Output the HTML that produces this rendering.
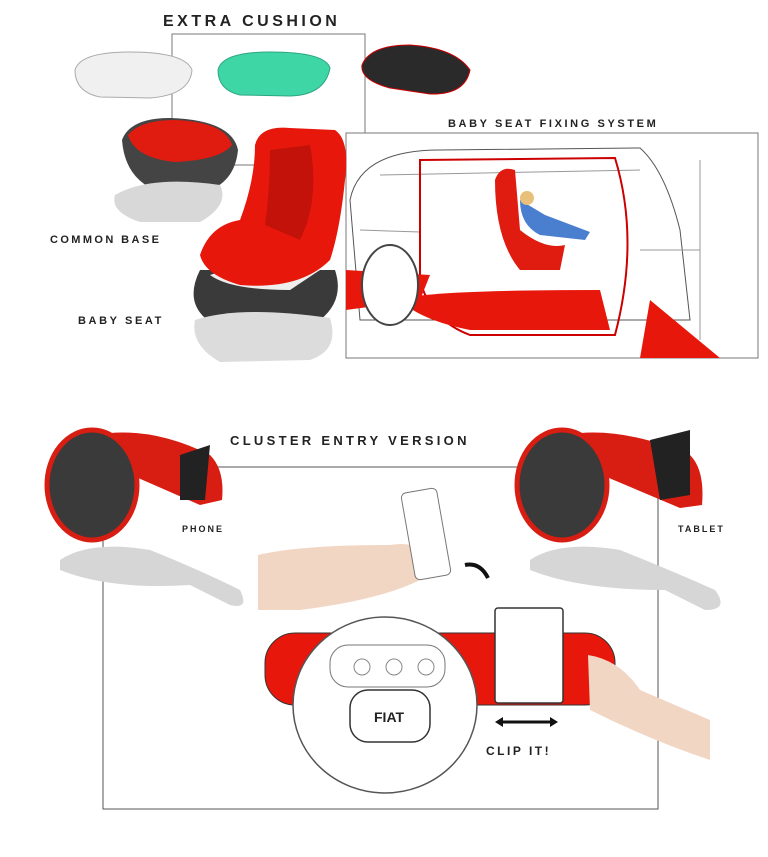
<!DOCTYPE html>
<html><head><meta charset="utf-8"><style>
html,body{margin:0;padding:0;background:#fff;width:768px;height:857px;overflow:hidden}
svg{display:block}
text{font-family:"Liberation Sans",sans-serif;font-weight:bold;fill:#222}
</style></head><body>
<svg width="768" height="857" viewBox="0 0 768 857" xmlns="http://www.w3.org/2000/svg">
<rect x="172" y="34" width="193" height="131" fill="none" stroke="#777" stroke-width="1"/>
<rect x="346" y="133" width="412" height="225" fill="#fff" stroke="#777" stroke-width="1"/>
<rect x="103" y="467" width="555" height="342" fill="none" stroke="#555" stroke-width="1"/>
<text x="163" y="26" font-size="16" letter-spacing="3.5">EXTRA CUSHION</text>
<text x="448" y="127" font-size="11" letter-spacing="2.6">BABY SEAT FIXING SYSTEM</text>
<text x="50" y="243" font-size="11" letter-spacing="2.4">COMMON BASE</text>
<text x="78" y="324" font-size="11" letter-spacing="2.6">BABY SEAT</text>
<text x="230" y="445" font-size="13" letter-spacing="3.3">CLUSTER ENTRY VERSION</text>
<text x="182" y="532" font-size="9" letter-spacing="2">PHONE</text>
<text x="678" y="532" font-size="9" letter-spacing="2">TABLET</text>
<text x="486" y="755" font-size="12" letter-spacing="2.5">CLIP IT!</text>
<path d="M75 70 Q80 52 130 52 Q185 52 192 70 Q190 95 150 98 L100 97 Q75 92 75 70Z" fill="#f0f0f0" stroke="#aaa"/>
<path d="M218 70 Q222 52 270 52 Q325 52 330 68 Q325 95 290 96 L240 95 Q218 90 218 70Z" fill="#3fd6a6" stroke="#2ca582"/>
<path d="M362 65 Q370 45 410 45 Q455 48 470 70 Q465 95 430 94 L390 88 Q360 80 362 65Z" fill="#2a2a2a" stroke="#c00"/>
<path d="M122 140 Q130 118 170 118 Q232 120 238 150 Q235 180 210 190 L160 192 Q125 180 122 140Z" fill="#444"/>
<path d="M128 135 Q140 120 175 120 Q225 122 232 145 Q220 160 175 162 Q135 158 128 135Z" fill="#e01b10"/>
<path d="M115 195 Q150 175 220 185 Q230 205 200 222 L140 222 Q110 212 115 195Z" fill="#d8d8d8"/>
<path d="M200 270 Q185 300 205 318 Q260 340 320 320 Q345 300 335 270 Z" fill="#3a3a3a"/>
<path d="M210 275 Q230 290 290 290 L320 270 Q300 260 250 262Z" fill="#eee"/>
<path d="M255 145 Q260 125 290 128 L335 130 Q350 140 345 180 Q340 230 330 260 Q300 290 240 285 Q205 275 200 255 Q210 225 240 220 Q255 180 255 145Z" fill="#e8170c"/>
<path d="M270 150 L310 145 Q320 200 300 240 L265 225 Q270 190 270 150Z" fill="#c3120a"/>
<path d="M195 320 Q240 305 330 318 Q340 350 310 360 L220 362 Q190 345 195 320Z" fill="#dcdcdc"/>
<path d="M350 200 Q360 150 440 150 L640 148 Q665 170 680 230 L690 320 L360 320 Z" fill="#fff" stroke="#555"/>
<path d="M380 175 L640 170 M360 230 L420 232 M640 250 L700 250 M700 160 L700 340" stroke="#999" fill="none"/>
<path d="M420 160 L615 158 Q640 240 615 335 L470 335 Q430 320 420 280Z" fill="none" stroke="#c00" stroke-width="2"/>
<path d="M400 300 Q420 290 600 290 L610 330 L470 330 Q420 320 400 300Z" fill="#e8170c"/>
<path d="M346 270 L430 275 L420 300 L346 310Z" fill="#e8170c"/>
<path d="M650 300 L720 358 L640 358Z" fill="#e8170c"/>
<path d="M495 180 Q500 165 515 170 L520 230 Q545 250 565 245 L560 270 L520 270 Q495 240 495 180Z" fill="#e01b10"/>
<path d="M520 200 L545 215 L590 232 L585 240 L540 235 Q520 225 520 200Z" fill="#4a7fd0"/>
<circle cx="527" cy="198" r="7" fill="#e9c07a"/>
<ellipse cx="390" cy="285" rx="28" ry="40" fill="#fff" stroke="#444" stroke-width="2"/>
<path d="M95 435 Q150 425 210 455 Q225 470 222 500 L200 505 L120 470Z" fill="#d81d12"/>
<ellipse cx="92" cy="485" rx="45" ry="55" fill="#3a3a3a" stroke="#d81d12" stroke-width="5"/>
<path d="M180 455 L210 445 L205 500 L180 500Z" fill="#222"/>
<path d="M60 560 Q90 540 150 550 Q200 570 240 590 Q250 610 230 605 L190 585 Q110 590 60 570Z" fill="#d6d6d6"/>
<path d="M565 435 Q620 425 690 455 Q705 470 702 505 L680 508 L590 470Z" fill="#d81d12"/>
<ellipse cx="562" cy="485" rx="45" ry="55" fill="#3a3a3a" stroke="#d81d12" stroke-width="5"/>
<path d="M650 440 L690 430 L690 495 L660 500Z" fill="#222"/>
<path d="M530 560 Q560 540 620 550 Q670 570 715 590 Q730 610 705 610 L665 590 Q580 590 530 570Z" fill="#d6d6d6"/>
<path d="M258 555 Q300 545 390 545 Q420 540 430 560 L420 580 Q380 600 300 610 L258 610Z" fill="#f2d6c4"/>
<rect x="408" y="490" width="36" height="88" rx="5" transform="rotate(-10 426 534)" fill="#fff" stroke="#777"/>
<path d="M465 565 Q480 562 488 578" fill="none" stroke="#111" stroke-width="4"/>
<rect x="265" y="633" width="350" height="72" rx="30" fill="#e8170c" stroke="#333"/>
<ellipse cx="385" cy="705" rx="92" ry="88" fill="#fff" stroke="#555" stroke-width="1.5"/>
<rect x="330" y="645" width="115" height="42" rx="18" fill="#fff" stroke="#777"/>
<circle cx="362" cy="667" r="8" fill="none" stroke="#888"/>
<circle cx="394" cy="667" r="8" fill="none" stroke="#888"/>
<circle cx="426" cy="667" r="8" fill="none" stroke="#888"/>
<rect x="350" y="690" width="80" height="52" rx="18" fill="#fff" stroke="#333" stroke-width="1.5"/>
<text x="374" y="722" font-size="14" fill="#333">FIAT</text>
<rect x="495" y="608" width="68" height="95" rx="3" fill="#fff" stroke="#333" stroke-width="1.5"/>
<path d="M588 655 Q620 660 640 690 L710 720 L710 760 Q650 740 590 710Z" fill="#f2d6c4"/>
<path d="M498 722 L555 722" stroke="#111" stroke-width="3"/>
<path d="M495 722 l8 -5 v10z M558 722 l-8 -5 v10z" fill="#111"/>
</svg>
</body></html>
